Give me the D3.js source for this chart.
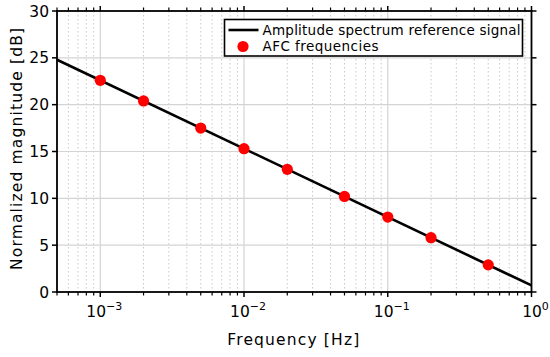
<!DOCTYPE html>
<html>
<head>
<meta charset="utf-8">
<script src="https://cdn.jsdelivr.net/npm/d3@7"></script>
<style>
  body { margin: 0; background: #fff; }
  svg { display: block; font-family: "DejaVu Sans", "Noto Sans", sans-serif; }
</style>
</head>
<body>
<div id="chart"></div>
<script>
// reference signal (straight line on log axis)
const lineFreq = [0.0005, 1];
const lineMag = [24.8, 0.7];

// AFC frequencies
const afcFreq = [0.001, 0.002, 0.005, 0.01, 0.02, 0.05, 0.1, 0.2, 0.5];
const afcMag = [22.6, 20.4, 17.5, 15.3, 13.1, 10.2, 8.0, 5.8, 2.9];

const yTicks = [0, 5, 10, 15, 20, 25, 30];
const xMajor = [1e-3, 1e-2, 1e-1, 1];
const xLabels = ["-3", "-2", "-1", "0"];
const legendLabels = ["Amplitude spectrum reference signal", "AFC frequencies"];
const legendWidths = [258, 116];

const W = 550, H = 357;
const m = { left: 57, right: 18.5, top: 11, bottom: 65 };
const iw = W - m.left - m.right, ih = H - m.top - m.bottom;

const svg = d3.select("#chart").append("svg").attr("width", W).attr("height", H);
const g = svg.append("g").attr("transform", `translate(${m.left},${m.top})`);

const x = d3.scaleLog().domain([0.0005, 1]).range([0, iw]);
const y = d3.scaleLinear().domain([0, 30]).range([ih, 0]);

// minor ticks 2..9 per decade
const xMinor = [];
for (let e = -4; e <= -1; e++) {
  for (let k = 2; k <= 9; k++) {
    const v = k * Math.pow(10, e);
    if (v >= 0.0005 && v < 1) xMinor.push(v);
  }
}

// grid
g.selectAll(".gminor").data(xMinor).join("line")
  .attr("x1", d => x(d)).attr("x2", d => x(d))
  .attr("y1", 0).attr("y2", ih)
  .attr("stroke", "#c8c8c8").attr("stroke-width", 1).attr("stroke-dasharray", "1.5,2.5");
g.selectAll(".gmajor").data(xMajor.slice(0, 3)).join("line")
  .attr("x1", d => x(d)).attr("x2", d => x(d))
  .attr("y1", 0).attr("y2", ih)
  .attr("stroke", "#d4d4d4").attr("stroke-width", 1.2);
g.selectAll(".gy").data(yTicks.slice(1, -1)).join("line")
  .attr("x1", 0).attr("x2", iw)
  .attr("y1", d => y(d)).attr("y2", d => y(d))
  .attr("stroke", "#d4d4d4").attr("stroke-width", 1.2);

// ticks on all four sides, outward
function xTicks(sel, y0, dir) {
  sel.append("g").selectAll("line").data(xMajor).join("line")
    .attr("x1", d => x(d)).attr("x2", d => x(d))
    .attr("y1", y0).attr("y2", y0 + dir * 5)
    .attr("stroke", "#000").attr("stroke-width", 1.5);
  sel.append("g").selectAll("line").data(xMinor).join("line")
    .attr("x1", d => x(d)).attr("x2", d => x(d))
    .attr("y1", y0).attr("y2", y0 + dir * 3.5)
    .attr("stroke", "#000").attr("stroke-width", 1.2);
}
xTicks(g, ih, 1);
xTicks(g, 0, -1);
g.append("g").selectAll("line").data(yTicks).join("line")
  .attr("x1", 0).attr("x2", -5)
  .attr("y1", d => y(d)).attr("y2", d => y(d))
  .attr("stroke", "#000").attr("stroke-width", 1.5);
g.append("g").selectAll("line").data(yTicks).join("line")
  .attr("x1", iw).attr("x2", iw + 5)
  .attr("y1", d => y(d)).attr("y2", d => y(d))
  .attr("stroke", "#000").attr("stroke-width", 1.5);

// frame
g.append("rect").attr("width", iw).attr("height", ih)
  .attr("fill", "none").attr("stroke", "#000").attr("stroke-width", 1.8);

// tick labels
g.selectAll(".yl").data(yTicks).join("text")
  .attr("x", -8).attr("y", d => y(d)).attr("dy", "0.36em")
  .attr("text-anchor", "end").attr("font-size", 15.5).text(d => d);

const xl = g.selectAll(".xl").data(xMajor).join("text")
  .attr("x", d => x(d) + 4).attr("y", ih + 25)
  .attr("text-anchor", "middle").attr("font-size", 15.5);
xl.append("tspan").text("10");
xl.append("tspan").attr("dy", -7).attr("font-size", 11).text((d, i) => xLabels[i].replace("-", "\u2212"));

// axis titles
g.append("text").attr("x", iw / 2 - 1).attr("y", ih + 53)
  .attr("text-anchor", "middle").attr("font-size", 15.5)
  .attr("textLength", 132).attr("lengthAdjust", "spacing").text("Frequency [Hz]");
g.append("text")
  .attr("transform", `translate(${-35},${138}) rotate(-90)`)
  .attr("text-anchor", "middle").attr("font-size", 15.5)
  .attr("textLength", 242).attr("lengthAdjust", "spacing").text("Normalized magnitude [dB]");

// reference line
const line = d3.line().x(d => x(d[0])).y(d => y(d[1]));
g.append("path").datum(d3.zip(lineFreq, lineMag))
  .attr("d", line).attr("fill", "none").attr("stroke", "#000").attr("stroke-width", 2.6);

// AFC points
g.selectAll(".afc").data(d3.zip(afcFreq, afcMag)).join("circle")
  .attr("cx", d => x(d[0])).attr("cy", d => y(d[1])).attr("r", 5.6)
  .attr("fill", "#ff0000");

// legend
const lg = svg.append("g").attr("transform", "translate(224.5,19.5)");
lg.append("rect").attr("width", 298).attr("height", 36.5)
  .attr("fill", "#fff").attr("stroke", "#000").attr("stroke-width", 1.6);
lg.append("line").attr("x1", 4).attr("x2", 34).attr("y1", 10.5).attr("y2", 10.5)
  .attr("stroke", "#000").attr("stroke-width", 2.6);
lg.append("circle").attr("cx", 18.5).attr("cy", 27).attr("r", 5.6).attr("fill", "#ff0000");
lg.selectAll(".lt").data(legendLabels).join("text")
  .attr("x", 38).attr("y", (d, i) => 10.5 + i * 16.5).attr("dy", "0.36em")
  .attr("font-size", 13.5)
  .attr("textLength", (d, i) => legendWidths[i]).attr("lengthAdjust", "spacing")
  .text(d => d);
</script>
</body>
</html>
